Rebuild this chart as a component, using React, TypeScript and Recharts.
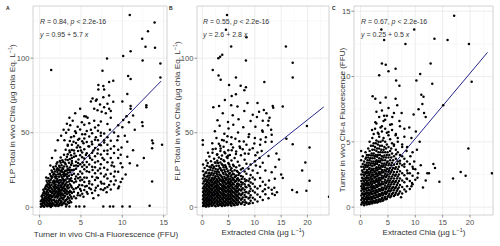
import React from 'react';
import {
  ScatterChart, Scatter, XAxis, YAxis, CartesianGrid, ReferenceLine, ReferenceArea
} from 'recharts';

type Pt = [number, number];
type Column = [number, number[]];

// Panel A: Turner FFU (x) vs FLP total chla (y)
const POINTS_A: Pt[] = [
  // sparse upper / right
  [10.9, 129], [13.9, 124], [13.1, 118], [12.4, 113], [12.8, 107.6], [13.95, 107], [11, 104.7], [8.15, 99.7],
  [10.1, 101.5], [12.45, 98.4], [14.6, 96.4], [1.4, 92.1], [7.6, 91.5], [14.6, 87], [10.7, 88], [11, 86],
  [8.9, 84.8], [8.4, 84], [7.1, 82], [7.7, 81.4], [7.1, 79], [7.8, 79], [10.6, 76], [8.4, 75], [6.4, 72.9],
  [6.9, 72.2], [7.7, 73.8], [6.2, 71], [6.8, 71.5], [8.9, 70.8], [10, 71], [11, 68], [11, 66], [12.9, 68.5],
  [12.9, 67], [7.3, 69], [7.8, 67], [8.2, 69.5], [8.4, 66], [7.0, 65], [7.5, 64], [8.0, 63], [8.6, 64.5],
  [6.6, 66], [14.8, 42], [13.6, 44.7], [13.6, 39.5], [12.45, 54.5], [10.9, 29.5], [9.8, 35.3], [9.8, 29.5],
  [13.6, 17.2], [13.3, 1], [10.9, 0.5], [10, 0.5], [8.9, 0.5], [8.5, 0.5], [7.7, 0.5], [5.4, 0.5], [4.8, 0.5],
  [4.4, 0.5], [3.6, 0.5], [3.2, 0.5], [9.8, 17], [9.6, 14], [7.9, 12.7], [7.7, 11.6],
  [10.1, 58.6], [10.5, 61], [9.5, 55], [10.8, 57], [10.3, 48], [11.5, 52], [9.9, 40], [12.6, 33], [11.8, 28],
  [9.1, 24], [10.4, 22], [8.8, 30], [9.4, 45], [12.4, 57], [13.7, 43],
  [3.0, 45], [3.2, 50], [3.4, 42], [3.5, 52], [3.6, 38], [3.7, 55], [3.8, 47], [3.9, 33], [4.0, 58], [4.1, 44],
  [4.2, 36], [4.3, 51], [4.4, 28], [4.5, 40], [4.6, 54], [4.7, 32], [4.8, 46], [4.9, 24], [5.0, 38], [5.1, 57],
  [5.2, 30], [5.3, 43], [5.4, 20], [5.5, 49], [5.6, 35], [5.7, 27], [5.8, 60], [5.9, 41], [6.0, 16], [6.1, 33],
  [6.2, 52], [6.3, 44], [6.4, 25], [6.5, 38], [6.6, 58], [6.7, 30], [6.8, 47], [6.9, 20], [7.0, 36], [7.1, 55],
  [7.2, 42], [7.3, 26], [7.4, 50], [7.6, 33], [7.8, 45], [8.0, 22], [8.2, 38], [8.5, 52], [8.7, 28], [9.0, 41],
  [9.2, 18], [9.5, 33], [3.1, 15], [3.3, 22], [3.5, 10], [3.7, 18], [3.9, 25], [4.1, 12], [4.3, 19], [4.6, 8],
  [4.8, 15], [5.0, 11], [5.3, 7], [5.5, 14], [5.8, 9], [6.2, 12], [6.5, 6], [6.8, 13], [7.1, 8], [7.5, 16],
  [8.1, 10], [8.4, 15], [0.8, 20], [1.3, 28], [1.5, 33], [1.9, 38], [2.2, 45], [2.6, 48], [2.9, 52], [3.3, 56],
  [3.6, 60], [4.3, 63], [5.4, 61], [4.9, 66], [5.6, 60.8]
];

// dense part of panel A, column by column (x, then the y values seen there)
const CORE_A: Column[] = [
  [0.15, [0.3, 2.2, 4.1]],
  [0.25, [1.8, 4.9, 7.3]],
  [0.35, [1.1, 3.6, 6.2, 8.4]],
  [0.45, [0.7, 2.6, 4.8, 9.5, 11.7]],
  [0.55, [0.4, 2.9, 5.3, 7.8, 10.6]],
  [0.65, [1.9, 4.1, 6.4, 9.2, 12.8]],
  [0.75, [1.6, 4.4, 6.9, 9.3, 12.2, 14.1]],
  [0.85, [0.9, 3.4, 5.8, 7.8, 10.4, 14.9, 17.8]],
  [0.95, [0.6, 2.7, 5.1, 8.6, 11.2, 13.8, 16.4]],
  [1.05, [2.1, 4.3, 6.8, 9.7, 12.1, 15.2, 19.4]],
  [1.15, [1.4, 3.9, 6.1, 8.3, 12.9, 15.3, 17.6]],
  [1.25, [0.8, 2.9, 5.1, 7.4, 10.9, 14.2, 16.6, 22.3]],
  [1.35, [0.2, 2.3, 5.6, 8.1, 10.4, 13.2, 18.5, 21.0]],
  [1.45, [1.7, 4.2, 6.9, 9.8, 12.3, 15.1, 19.6, 24.6]],
  [1.55, [1.0, 3.1, 6.8, 9.4, 11.8, 16.6, 20.3, 23.5]],
  [1.65, [2.4, 5.0, 7.7, 10.6, 13.9, 17.5, 21.8, 27.0]],
  [1.75, [1.9, 4.9, 8.4, 10.8, 13.1, 15.7, 17.9, 22.4, 25.6]],
  [1.85, [1.2, 3.9, 6.5, 9.3, 11.7, 14.3, 16.9, 20.5, 24.0]],
  [1.95, [0.9, 3.3, 7.2, 9.9, 12.6, 15.2, 19.4, 21.8, 27.5]],
  [2.05, [2.0, 4.6, 7.9, 10.8, 13.6, 17.8, 20.7, 25.2, 29.1]],
  [2.15, [2.4, 6.3, 8.9, 13.0, 16.8, 19.0, 23.7, 26.1, 30.2]],
  [2.25, [0.9, 3.6, 7.4, 9.8, 11.7, 14.8, 17.6, 22.1, 25.4]],
  [2.35, [1.3, 4.8, 8.4, 10.6, 12.9, 16.3, 20.4, 24.9, 27.8]],
  [2.45, [2.3, 5.9, 9.1, 11.5, 14.6, 18.3, 22.6, 26.7, 31.0]],
  [2.55, [2.9, 4.3, 7.7, 10.2, 13.4, 16.8, 21.6, 23.9, 29.8, 33.4]],
  [2.65, [1.3, 3.7, 6.6, 8.9, 11.6, 14.2, 17.9, 20.6, 24.8, 28.2]],
  [2.75, [1.8, 5.8, 9.2, 12.5, 15.4, 19.7, 23.6, 26.4, 31.6]],
  [2.85, [2.6, 5.2, 8.1, 11.3, 13.0, 16.3, 18.8, 21.9, 25.6, 30.4]],
  [2.95, [3.1, 6.6, 10.8, 13.9, 17.4, 20.8, 22.9, 27.3, 35.2]],
  [3.05, [3.9, 7.6, 9.4, 12.4, 15.0, 18.1, 21.4, 24.1, 29.8]],
  [3.15, [2.0, 4.7, 9.9, 11.8, 15.7, 18.5, 22.2, 24.4, 28.9, 32.1, 38.6]],
  [3.3, [1.9, 5.4, 8.8, 10.7, 13.7, 16.8, 20.5, 24.6, 27.4, 33.9]],
  [3.4, [3.6, 6.9, 12.6, 14.8, 19.3, 23.1, 25.8, 31.7, 35.6, 41.3]],
  [3.55, [2.8, 6.0, 9.8, 13.2, 17.2, 21.1, 25.0, 29.8]],
  [3.65, [4.5, 8.2, 11.1, 15.5, 18.8, 23.4, 26.7, 32.4, 36.9, 44.5]],
  [3.8, [3.3, 7.1, 10.3, 14.4, 19.5, 24.9, 28.3, 34.8]],
  [3.9, [5.9, 9.6, 13.3, 17.6, 21.6, 29.5, 31.1, 38.4, 42.0]],
  [4.15, [7.2, 10.4, 16.6, 22.4, 25.2, 27.9, 33.8, 38.1, 47.6]],
  [4.4, [6.1, 12.8, 17.2, 20.6, 25.9, 30.6, 34.4, 43.1, 49.8]],
  [4.65, [9.5, 13.6, 19.4, 22.1, 27.6, 29.7, 37.7, 41.4, 45.3]],
  [4.9, [7.8, 12.2, 17.9, 20.2, 28.8, 34.9, 40.3, 52.1]],
  [5.15, [9.1, 14.7, 18.4, 22.6, 27.1, 33.6, 36.8, 44.2, 48.9]],
  [5.4, [11.6, 16.9, 25.5, 28.4, 32.7, 38.9, 46.1, 55.3]],
  [5.7, [10.3, 14.2, 19.8, 24.1, 30.4, 36.2, 43.8, 51.2]],
  [6.0, [12.9, 17.5, 23.6, 28.6, 34.5, 40.7, 47.5, 56.4]],
  [6.35, [9.6, 15.3, 20.4, 27.2, 31.9, 36.6, 42.3, 49.6]],
  [6.7, [11.2, 18.2, 22.8, 26.9, 34.2, 39.8, 45.2, 53.5]],
  [7.05, [14.4, 19.7, 24.6, 30.8, 38.7, 44.9, 51.3]],
  [7.4, [12.1, 17.1, 22.7, 28.9, 35.4, 41.6, 47.9, 57.5]],
  [7.8, [15.8, 20.7, 26.5, 31.8, 37.9, 43.5, 49.4]],
  [8.2, [13.5, 19.3, 25.1, 30.2, 35.8, 41.9, 47.0, 55.8]],
  [8.6, [11.9, 17.4, 22.5, 33.1, 39.3, 44.6, 60.1]],
  [9.0, [15.2, 20.6, 27.3, 36.4, 50.2]],
  [9.5, [12.7, 23.8, 38.5, 47.6]],
  [10.0, [19.1, 26.8, 53.7]],
  [10.6, [33.9, 44.0]],
  [11.3, [38.2, 61.5]]
];

// Panel B: extracted chla (x) vs FLP total chla (y)
const POINTS_B: Pt[] = [
  [4.7, 129], [4.5, 119], [8.4, 114], [5.5, 107.8], [15.9, 107.8], [3.8, 102.3], [3.05, 100], [3.4, 101],
  [8.3, 98.4], [17.2, 97], [17.2, 87], [2.0, 92], [3.5, 85.6], [3.1, 88.4], [6.4, 87], [11.8, 84], [5.1, 82],
  [7.3, 81.5], [8.3, 80.5], [8.0, 78.5], [6.4, 75.8], [5.6, 74.6], [4.3, 72], [10.5, 70], [8.6, 70], [3.2, 68],
  [2.1, 67], [5.5, 68.5], [6.7, 67.5], [13.4, 68], [13.5, 66.8], [15.3, 67.5], [0.1, 45], [0.1, 42],
  [19.9, 54.5], [17.2, 42.3], [20.4, 40], [16, 46], [19.6, 30], [19, 24.6], [20.4, 17.7], [19.8, 11], [24.1, 7],
  [18, 10], [17.1, 11.6], [13.7, 13], [14.2, 10], [15, 22], [15.3, 19.6],
  [12.2, 63], [12.8, 60], [11.5, 58], [12.5, 55], [13.1, 52], [10.8, 64], [9.6, 62], [13.2, 44], [12.1, 47],
  [14.1, 36], [13.9, 27], [12.7, 18], [11.9, 12], [13.3, 9], [10.2, 28], [10.9, 33], [14.6, 32],
  [1.9, 43.0], [2.7, 46.5], [3.4, 41.2], [4.1, 44.8], [4.8, 47.6], [5.5, 42.3], [6.3, 45.9], [7.1, 40.7],
  [7.9, 44.1], [8.8, 47.2], [9.9, 42.8], [11.1, 45.5],
  [2.4, 51.0], [3.3, 54.6], [4.2, 49.3], [5.0, 52.8], [5.9, 55.4], [6.8, 50.2], [7.8, 53.7], [8.9, 49.0],
  [10.1, 54.0], [11.4, 51.5],
  [2.9, 58.4], [3.9, 63.1], [4.9, 57.2], [5.8, 61.7], [6.9, 59.0], [8.0, 64.5], [9.2, 57.8], [10.4, 60.6], [11.7, 65.2],
  [1.1, 36.5], [2.0, 38.9], [2.8, 35.2], [3.5, 39.4], [4.2, 37.0], [4.9, 34.6], [5.6, 38.2], [6.4, 35.8],
  [7.2, 39.7], [8.1, 36.1], [9.0, 38.6], [10.1, 34.9], [11.3, 37.8]
];

const CORE_B: Column[] = [
  [0.15, [0.9, 3.1, 5.4, 7.7, 10.2, 12.8, 15.9, 19.3, 24.1, 28.7]],
  [0.3, [2.0, 4.3, 6.5, 8.8, 11.3, 13.9, 17.5, 21.7]],
  [0.45, [1.7, 4.2, 6.6, 9.0, 11.4, 14.1, 17.2, 20.6, 26.3]],
  [0.6, [0.6, 3.0, 5.5, 7.8, 10.3, 12.7, 15.4, 18.8, 22.8]],
  [0.75, [0.5, 2.8, 5.3, 7.9, 10.5, 13.0, 15.6, 18.4, 23.5, 31.4]],
  [0.9, [1.6, 3.9, 6.3, 8.8, 11.7, 14.4, 16.9, 20.5, 27.9]],
  [1.05, [1.9, 4.6, 7.1, 9.6, 12.2, 14.9, 17.7, 21.2, 25.0, 29.6]],
  [1.2, [0.7, 3.0, 5.6, 8.3, 10.7, 13.5, 16.2, 19.0, 22.6]],
  [1.35, [0.8, 3.4, 5.9, 8.7, 11.3, 13.7, 16.4, 19.9, 23.1, 27.2, 34.0]],
  [1.5, [2.1, 4.6, 7.2, 9.9, 12.4, 14.9, 17.8, 21.3, 25.2]],
  [1.65, [2.2, 4.8, 7.4, 10.1, 12.6, 15.3, 18.1, 21.9, 26.6, 30.9]],
  [1.8, [1.0, 3.5, 6.0, 8.6, 11.2, 13.9, 16.6, 19.3, 23.0, 28.0]],
  [1.95, [1.1, 3.7, 6.3, 8.9, 11.5, 14.4, 17.0, 19.8, 24.7, 28.3, 36.6]],
  [2.1, [2.3, 4.9, 7.5, 10.0, 12.8, 15.5, 18.2, 21.5, 26.2]],
  [2.25, [2.6, 5.2, 7.8, 10.4, 13.2, 15.9, 18.9, 22.7, 27.1, 32.5]],
  [2.4, [1.2, 3.7, 6.1, 8.8, 11.3, 14.0, 16.9, 19.9, 23.9, 30.0]],
  [2.55, [0.6, 3.9, 6.5, 9.1, 11.9, 14.6, 17.5, 20.8, 25.6, 29.8, 39.2]],
  [2.7, [2.5, 5.1, 7.9, 10.6, 13.4, 16.1, 19.0, 22.8, 27.8]],
  [2.85, [2.1, 4.5, 7.2, 9.8, 12.5, 15.1, 18.3, 22.0, 24.2, 31.2, 35.5]],
  [3.0, [1.0, 3.6, 6.2, 8.9, 11.6, 14.5, 17.3, 20.7, 25.4, 29.6]],
  [3.15, [1.3, 3.5, 6.0, 8.4, 11.0, 13.8, 16.7, 19.6, 23.5, 27.9, 33.3, 42.6]],
  [3.3, [2.3, 4.9, 7.4, 10.1, 12.7, 15.6, 18.4, 22.0, 26.5]],
  [3.45, [2.4, 5.0, 7.6, 10.0, 12.8, 15.5, 18.6, 21.4, 26.0, 30.1, 37.8]],
  [3.6, [1.4, 3.9, 6.6, 9.3, 12.1, 14.9, 17.8, 21.0, 24.8, 32.3]],
  [3.75, [0.9, 3.2, 5.8, 8.7, 11.6, 14.2, 17.3, 20.2, 24.6, 28.8, 34.7, 45.1]],
  [3.9, [2.6, 5.2, 7.8, 10.6, 13.3, 16.2, 19.0, 23.2, 28.1]],
  [4.05, [2.0, 4.4, 6.9, 9.5, 12.2, 15.0, 18.0, 22.3, 26.9, 31.5, 40.5]],
  [4.2, [1.1, 3.5, 6.2, 8.9, 11.6, 14.3, 17.2, 20.5, 25.2, 30.8]],
  [4.35, [1.2, 3.6, 6.1, 8.3, 10.9, 13.6, 16.4, 19.4, 23.8, 28.1, 36.2]],
  [4.5, [2.4, 4.9, 7.4, 10.2, 12.8, 15.6, 18.4, 22.1, 27.0]],
  [4.65, [2.7, 5.4, 7.9, 10.5, 13.1, 15.8, 18.7, 21.6, 25.9, 33.7, 43.8]],
  [4.8, [1.3, 3.9, 6.4, 9.0, 11.5, 14.2, 17.0, 20.2, 24.0, 33.0]],
  [4.95, [1.5, 4.0, 6.7, 9.2, 11.8, 14.5, 17.6, 20.9, 24.4, 29.6, 38.3]],
  [5.1, [2.6, 5.3, 7.8, 10.4, 13.0, 15.7, 18.7, 22.4, 28.9]],
  [5.25, [2.9, 5.6, 8.1, 10.8, 13.9, 16.3, 19.2, 23.0, 27.4, 35.0]],
  [5.4, [1.5, 4.1, 6.8, 9.6, 12.2, 15.1, 17.4, 20.6, 25.0]],
  [5.55, [1.0, 3.8, 6.4, 9.0, 11.5, 14.8, 17.9, 21.7, 26.2, 31.3, 46.9]],
  [5.7, [2.8, 5.5, 8.2, 10.9, 13.6, 16.4, 19.8, 24.0]],
  [5.85, [2.5, 5.1, 7.6, 10.2, 12.9, 15.6, 18.8, 22.5, 28.5, 40.1]],
  [6.0, [1.7, 4.4, 7.1, 9.9, 12.6, 15.3, 18.3, 22.2, 27.6]],
  [6.15, [1.4, 4.2, 6.8, 9.6, 12.3, 16.9, 20.1, 24.9, 33.0]],
  [6.3, [3.0, 5.8, 8.4, 11.0, 14.0, 17.2, 20.8]],
  [6.45, [3.0, 5.7, 8.5, 11.2, 14.3, 17.7, 21.3, 26.8, 37.4]],
  [6.6, [1.9, 4.5, 7.2, 10.0, 12.8, 15.6, 18.9, 24.3]],
  [6.75, [1.8, 4.7, 7.3, 10.6, 13.5, 16.0, 19.5, 23.7, 30.6]],
  [6.9, [3.2, 6.0, 8.8, 11.6, 14.6, 17.8, 21.6]],
  [7.05, [3.3, 6.2, 9.3, 12.0, 15.2, 18.2, 22.8, 28.0, 44.3]],
  [7.35, [2.2, 5.0, 8.0, 11.3, 14.0, 17.0, 21.0, 25.3, 34.8]],
  [7.5, [2.5, 5.6, 8.7, 11.9, 15.3, 18.9]],
  [7.7, [3.6, 6.6, 9.8, 12.7, 16.5, 20.4, 26.1, 38.9]],
  [8.05, [1.6, 4.9, 8.3, 11.7, 15.4, 19.0, 23.9, 31.8]],
  [8.2, [3.4, 6.8, 10.1, 13.9, 17.5]],
  [8.4, [3.1, 6.9, 10.3, 13.4, 18.1, 22.4, 29.2, 42.0]],
  [8.8, [2.4, 5.8, 9.4, 14.9, 17.6, 25.8, 35.9]],
  [9.0, [2.7, 6.6, 10.7, 14.1, 19.1]],
  [9.2, [4.3, 8.1, 12.4, 16.6, 21.7, 28.6]],
  [9.6, [2.9, 6.4, 11.0, 15.7, 20.0, 24.6, 39.6]],
  [10.0, [5.2, 9.9, 13.8, 18.6, 30.9, 46.4]],
  [10.5, [3.9, 8.6, 12.6, 22.9, 36.7]],
  [11.0, [6.9, 14.3, 19.7, 27.1, 41.9]],
  [11.5, [4.8, 10.8, 17.1, 29.9, 50.6]],
  [12.0, [8.8, 15.1, 24.7, 43.7]],
  [12.6, [6.1, 13.0, 34.4, 58.0]],
  [13.2, [11.7, 23.4, 48.7]],
  [13.8, [8.3, 19.1]]
];

// Panel C: extracted chla (x) vs Turner FFU (y)
const POINTS_C: Pt[] = [
  [17.1, 14.65], [9.8, 13.6], [13.5, 12.9], [15.9, 12.8], [8.2, 12.5], [19.8, 12.5], [3.8, 13.6], [4.3, 12.8],
  [12.8, 11.0], [3.9, 11.0], [4.6, 10.9], [6.4, 10.6], [5.1, 10.4], [3.4, 10.1], [10.9, 10.2], [6.5, 9.7],
  [10.2, 9.7], [13.1, 9.45], [20.3, 9.6], [7.1, 9.3], [2.2, 8.5], [2.7, 8.3], [4.6, 8.4], [6.4, 8.3], [11.1, 8.6],
  [11.5, 8.45], [15.1, 7.8], [19.7, 4.5], [24, 2.6], [18.3, 2.7], [19.2, 2.4], [16.9, 2.2], [13.3, 3.3],
  [13.6, 3.0], [12.2, 2.6], [12.5, 2.6], [11.9, 2.05], [11.4, 1.5], [10.5, 2.6], [14.4, 1.95],
  [11.3, 7.9], [11.6, 7.2], [10.6, 7.5], [11.9, 6.9], [8.4, 4.3], [9.1, 3.9], [9.8, 3.5], [10.3, 4.4], [9.3, 5.3],
  [8.9, 6.1], [9.7, 7.1], [10.1, 5.8], [11.0, 3.2], [10.8, 5.0],
  [0.1, 3.6], [0.1, 4.3], [2.1, 5.9], [2.7, 6.5], [3.3, 5.6], [3.9, 6.2], [4.5, 6.7], [5.1, 5.75], [5.7, 6.35],
  [6.4, 5.5], [7.1, 6.6], [8.0, 6.0], [2.9, 7.3], [3.6, 8.0], [4.3, 7.0], [5.1, 7.6], [5.8, 6.9], [6.7, 7.8],
  [7.5, 7.2], [6.1, 4.8], [6.8, 5.3], [7.6, 4.6], [6.5, 4.05], [7.2, 3.55], [8.0, 3.3], [8.6, 2.6], [9.6, 2.95],
  [8.4, 2.2], [9.4, 1.85], [10.4, 2.25], [8.3, 1.2], [9.3, 1.6], [7.4, 0.75]
];

const CORE_C: Column[] = [
  [0.15, [0.2, 0.55, 0.9, 1.25, 1.6, 2.0, 2.5, 3.1]],
  [0.28, [0.35, 0.7, 1.05, 1.45, 1.8, 2.25, 2.8]],
  [0.4, [0.35, 0.7, 1.05, 1.4, 1.8, 2.2, 2.7, 3.3, 3.9]],
  [0.53, [0.3, 0.65, 1.0, 1.35, 1.65, 2.05, 2.5, 3.1]],
  [0.65, [0.15, 0.5, 0.85, 1.2, 1.55, 1.95, 2.4, 2.9, 3.5]],
  [0.78, [0.3, 0.65, 1.0, 1.4, 1.75, 2.2, 2.65, 3.25]],
  [0.9, [0.3, 0.65, 1.0, 1.35, 1.7, 2.1, 2.55, 3.05, 3.7, 4.2]],
  [1.03, [0.4, 0.75, 1.1, 1.45, 1.85, 2.25, 2.7, 3.2, 3.8]],
  [1.15, [0.2, 0.55, 0.9, 1.25, 1.65, 2.0, 2.4, 2.85, 3.4, 4.0]],
  [1.28, [0.35, 0.7, 1.05, 1.45, 1.8, 2.2, 2.6, 3.1, 3.6]],
  [1.4, [0.4, 0.75, 1.1, 1.5, 1.85, 2.25, 2.7, 3.2, 3.8, 4.5]],
  [1.53, [0.25, 0.6, 0.95, 1.3, 1.7, 2.05, 2.45, 2.9, 3.4, 4.0]],
  [1.65, [0.25, 0.6, 0.95, 1.3, 1.7, 2.1, 2.55, 3.0, 3.6, 4.3, 5.0]],
  [1.78, [0.4, 0.75, 1.1, 1.5, 1.85, 2.25, 2.7, 3.2, 3.75]],
  [1.9, [0.45, 0.8, 1.15, 1.55, 1.95, 2.35, 2.8, 3.35, 3.95, 4.7]],
  [2.03, [0.3, 0.65, 1.0, 1.35, 1.7, 2.1, 2.5, 2.95, 3.5, 4.1]],
  [2.15, [0.3, 0.65, 1.0, 1.4, 1.8, 2.2, 2.65, 3.15, 3.75, 4.4, 5.3]],
  [2.28, [0.45, 0.8, 1.2, 1.55, 1.95, 2.4, 2.85, 3.35, 3.95, 4.7]],
  [2.4, [0.5, 0.85, 1.25, 1.6, 2.05, 2.5, 2.95, 3.5, 4.1, 4.9, 5.6]],
  [2.53, [0.35, 0.7, 1.05, 1.45, 1.85, 2.25, 2.7, 3.2, 3.75, 4.4]],
  [2.65, [0.35, 0.7, 1.1, 1.45, 1.9, 2.3, 2.75, 3.3, 3.9, 4.6, 6.0]],
  [2.78, [0.5, 0.9, 1.25, 1.65, 2.05, 2.5, 2.95, 3.45, 4.0, 4.9]],
  [2.9, [0.55, 0.95, 1.3, 1.7, 2.15, 2.6, 3.05, 3.6, 4.3, 5.1, 6.4]],
  [3.03, [0.35, 0.75, 1.15, 1.55, 1.95, 2.35, 2.8, 3.3, 3.85, 4.5]],
  [3.15, [0.4, 0.8, 1.2, 1.6, 2.0, 2.45, 2.9, 3.45, 4.0, 4.8, 5.7]],
  [3.28, [0.55, 0.95, 1.35, 1.75, 2.15, 2.6, 3.05, 3.55, 4.2, 5.0]],
  [3.4, [0.6, 1.0, 1.4, 1.85, 2.25, 2.7, 3.2, 3.75, 4.5, 5.4, 6.9]],
  [3.53, [0.45, 0.85, 1.25, 1.65, 2.05, 2.5, 2.95, 3.45, 4.0, 4.7]],
  [3.65, [0.45, 0.9, 1.3, 1.7, 2.1, 2.55, 3.0, 3.55, 4.2, 5.0, 6.1]],
  [3.78, [0.6, 1.0, 1.4, 1.8, 2.25, 2.7, 3.15, 3.7, 4.4]],
  [3.9, [0.7, 1.1, 1.5, 1.95, 2.4, 2.85, 3.35, 3.9, 4.7, 5.8, 7.4]],
  [4.05, [0.5, 0.9, 1.3, 1.75, 2.2, 2.65, 3.1, 3.6, 4.2, 5.1]],
  [4.2, [0.55, 1.0, 1.4, 1.8, 2.25, 2.7, 3.2, 3.8, 4.4, 5.3, 6.6]],
  [4.35, [0.7, 1.1, 1.5, 1.95, 2.4, 2.85, 3.35, 3.95, 4.6]],
  [4.5, [0.8, 1.2, 1.65, 2.1, 2.55, 3.05, 3.6, 4.2, 5.0, 6.0]],
  [4.65, [0.6, 1.0, 1.4, 1.85, 2.3, 2.75, 3.25, 3.8, 4.5]],
  [4.8, [0.65, 1.1, 1.5, 1.95, 2.4, 2.9, 3.4, 4.0, 4.8, 5.7, 7.0]],
  [4.95, [0.8, 1.2, 1.6, 2.05, 2.5, 2.95, 3.5, 4.2]],
  [5.1, [0.9, 1.3, 1.75, 2.2, 2.7, 3.2, 3.8, 4.6, 5.5]],
  [5.25, [1.0, 1.45, 1.9, 2.35, 2.8, 3.35, 4.0]],
  [5.4, [0.75, 1.2, 1.6, 2.05, 2.55, 3.0, 3.6, 4.3, 5.2, 6.3]],
  [5.6, [0.85, 1.3, 1.75, 2.2, 2.7, 3.2, 3.8, 4.5]],
  [5.75, [1.0, 1.45, 1.9, 2.35, 2.85, 3.4, 4.1, 4.9, 5.9]],
  [5.95, [1.1, 1.55, 2.0, 2.5, 3.0, 3.6]],
  [6.1, [0.85, 1.3, 1.75, 2.2, 2.7, 3.25, 3.9, 4.7, 7.2]],
  [6.3, [0.95, 1.45, 1.9, 2.4, 2.95]],
  [6.45, [1.1, 1.55, 2.0, 2.5, 3.05, 3.7, 4.4, 5.6]],
  [6.65, [1.25, 1.7, 2.2, 2.7, 3.3]],
  [6.8, [0.95, 1.4, 1.85, 2.35, 2.9, 3.5, 4.2, 5.0]],
  [7.0, [1.05, 1.5, 2.0, 2.5, 3.1]],
  [7.2, [1.2, 1.7, 2.2, 2.75, 3.35, 4.0, 6.2]],
  [7.6, [1.05, 1.55, 2.05, 2.6, 3.2, 3.9, 4.8]],
  [8.0, [1.35, 1.9, 2.45, 3.1, 3.7, 5.4]],
  [8.5, [1.6, 2.15, 2.8, 3.5, 4.6]],
  [9.0, [1.4, 2.0, 2.6, 3.3]],
  [9.5, [1.75, 2.4, 3.1, 4.2]],
  [10.0, [2.1, 2.9]]
];

// fitted lines, end points
const LINE_A = [{ x: 0.3, y: 2.7 }, { x: 14.7, y: 84.7 }];
const LINE_B = [{ x: 0, y: 2.6 }, { x: 23.1, y: 67.3 }];
const LINE_C = [{ x: 0.1, y: 0.3 }, { x: 23.2, y: 11.85 }];

const X_TICKS_A = [0, 5, 10, 15];
const X_MINOR_A = [2.5, 7.5, 12.5];
const X_TICKS_BC = [0, 5, 10, 15, 20];
const X_MINOR_BC = [2.5, 7.5, 12.5, 17.5, 22.5];
const Y_TICKS_AB = [0, 50, 100];
const Y_MINOR_AB = [25, 75, 125];
const Y_TICKS_C = [0, 5, 10, 15];
const Y_MINOR_C = [2.5, 7.5, 12.5];

const FONT = '"Liberation Sans", Arial, sans-serif';
const LINE_COLOR = '#25258c';

const toXY = (pts: Pt[], cols: Column[]) => [
  ...pts.map(([x, y]) => ({ x, y })),
  ...cols.flatMap(([x, ys]) => ys.map((y) => ({ x, y })))
];

const Dot = (props: any) => <circle cx={props.cx} cy={props.cy} r={1.25} fill="#000" />;

interface PanelProps {
  left: number;
  yAxisWidth: number;
  marginRight: number;
  points: Pt[];
  core: Column[];
  line: { x: number; y: number }[];
  xDomain: [number, number];
  yDomain: [number, number];
  xTicks: number[];
  xMinor: number[];
  yTicks: number[];
  yMinor: number[];
}

const Panel: React.FC<PanelProps> = ({ left, yAxisWidth, marginRight, points, core, line, xDomain, yDomain, xTicks, xMinor, yTicks, yMinor }) => {
  const data = React.useMemo(() => toXY(points, core), [points, core]);
  return (
    <div style={{ position: 'absolute', left, top: 0 }}>
      <ScatterChart width={170} height={246} margin={{ top: 6, right: marginRight, bottom: 0, left: 0 }}>
        <CartesianGrid verticalValues={xMinor} horizontalValues={yMinor} stroke="#f2f2f2" strokeWidth={0.5} />
        <CartesianGrid verticalValues={xTicks} horizontalValues={yTicks} stroke="#e8e8e8" strokeWidth={0.8} />
        <XAxis
          type="number" dataKey="x" domain={xDomain} ticks={xTicks} allowDataOverflow interval={0}
          axisLine={false} tickSize={2.5} tickMargin={2} height={31}
          tick={{ fontSize: 7.6, fill: '#4d4d4d' }} tickLine={{ stroke: '#4d4d4d', strokeWidth: 0.6 }}
        />
        <YAxis
          type="number" dataKey="y" domain={yDomain} ticks={yTicks} allowDataOverflow interval={0}
          axisLine={false} tickSize={2.5} tickMargin={1} width={yAxisWidth}
          tick={{ fontSize: 7.6, fill: '#4d4d4d' }} tickLine={{ stroke: '#4d4d4d', strokeWidth: 0.6 }}
        />
        <ReferenceArea
          x1={xDomain[0]} x2={xDomain[1]} y1={yDomain[0]} y2={yDomain[1]}
          fill="none" fillOpacity={0} stroke="#c6c6c6" strokeWidth={0.8} ifOverflow="visible"
        />
        <Scatter data={data} isAnimationActive={false} shape={Dot} />
        <ReferenceLine segment={line} stroke={LINE_COLOR} strokeWidth={1} ifOverflow="visible" />
      </ScatterChart>
    </div>
  );
};

const Sup = ({ text }: { text: string }) => (
  <tspan fontSize={5.5} dy={-3}>{text}</tspan>
);

const Annotation = ({ x, r, eq }: { x: number; r: string; eq: [string, string] }) => (
  <g fontSize={7} fill="#333">
    <text x={x} y={23.5}>
      <tspan fontStyle="italic">R</tspan>{` = ${r}, `}<tspan fontStyle="italic">p</tspan>{' < 2.2e-16'}
    </text>
    <text x={x} y={36.5}>
      <tspan fontStyle="italic">y</tspan>{` = ${eq[0]} + ${eq[1]} `}<tspan fontStyle="italic">x</tspan>
    </text>
  </g>
);

const Labels = () => (
  <svg width={500} height={246} style={{ position: 'absolute', left: 0, top: 0, pointerEvents: 'none' }}>
    <g fontSize={5} fontWeight="bold" fill="#222">
      <text x={6} y={10}>A</text>
      <text x={169} y={10}>B</text>
      <text x={332} y={10}>C</text>
    </g>
    <Annotation x={40} r="0.84" eq={['0.95', '5.7']} />
    <Annotation x={203} r="0.55" eq={['2.6', '2.8']} />
    <Annotation x={361} r="0.67" eq={['0.25', '0.5']} />
    <g fontSize={8.1} fill="#333" textAnchor="middle">
      <text x={106} y={236.5}>Turner in vivo Chl-a Fluorescence (FFU)</text>
      <text x={263} y={235}>Extracted Chla (µg  L<Sup text="−1" /><tspan dy={3}>)</tspan></text>
      <text x={424} y={235}>Extracted Chla (µg  L<Sup text="−1" /><tspan dy={3}>)</tspan></text>
      <text transform="translate(14.5,114) rotate(-90)">
        FLP Total in vivo Chla (µg chla Eq. L<Sup text="−1" /><tspan dy={3}>)</tspan>
      </text>
      <text transform="translate(179.5,111) rotate(-90)">
        FLP Total in vivo Chla (µg chla Eq. L<Sup text="−1" /><tspan dy={3}>)</tspan>
      </text>
      <text transform="translate(344.5,120) rotate(-90)">Turner in vivo Chl-a Fluorescence (FFU)</text>
    </g>
  </svg>
);

export default function App() {
  return (
    <div style={{ position: 'absolute', left: 0, top: 0, width: 500, height: 246, background: '#fff', fontFamily: FONT, overflow: 'hidden' }}>
      <Panel
        left={0} yAxisWidth={33} marginRight={3} points={POINTS_A} core={CORE_A} line={LINE_A}
        xDomain={[-0.8, 15.4]} yDomain={[-5.2, 135]}
        xTicks={X_TICKS_A} xMinor={X_MINOR_A} yTicks={Y_TICKS_AB} yMinor={Y_MINOR_AB}
      />
      <Panel
        left={165} yAxisWidth={32} marginRight={6} points={POINTS_B} core={CORE_B} line={LINE_B}
        xDomain={[-1.0, 24.1]} yDomain={[-5.2, 135]}
        xTicks={X_TICKS_BC} xMinor={X_MINOR_BC} yTicks={Y_TICKS_AB} yMinor={Y_MINOR_AB}
      />
      <Panel
        left={330} yAxisWidth={24} marginRight={7} points={POINTS_C} core={CORE_C} line={LINE_C}
        xDomain={[-1.2, 24.2]} yDomain={[-0.6, 15.4]}
        xTicks={X_TICKS_BC} xMinor={X_MINOR_BC} yTicks={Y_TICKS_C} yMinor={Y_MINOR_C}
      />
      <Labels />
    </div>
  );
}
